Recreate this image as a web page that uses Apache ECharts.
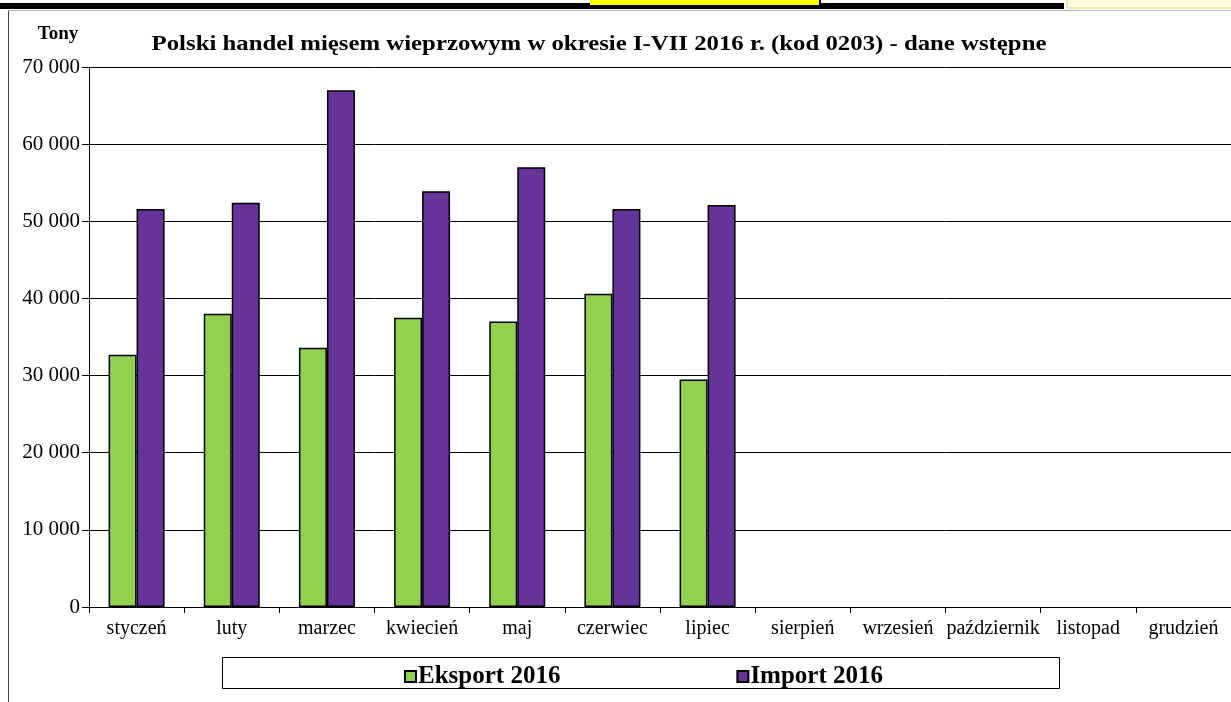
<!DOCTYPE html>
<html>
<head>
<meta charset="utf-8">
<script src="https://cdn.jsdelivr.net/npm/echarts@6/dist/echarts.min.js"></script>
<style>html,body{margin:0;padding:0;background:#fff;}#c{width:1231px;height:702px;}</style>
</head>
<body>
<div id="c"></div>
<script>
const months = ['styczeń','luty','marzec','kwiecień','maj','czerwiec','lipiec','sierpień','wrzesień','październik','listopad','grudzień'];
const eksport2016 = [32700, 38000, 33600, 37500, 37000, 40600, 29500, null, null, null, null, null];
const import2016 = [51600, 52400, 67000, 53900, 57000, 51600, 52100, null, null, null, null, null];
const yTicks = [0, 10000, 20000, 30000, 40000, 50000, 60000, 70000];
const titleText = 'Polski handel mięsem wieprzowym w okresie I-VII 2016 r. (kod 0203) - dane wstępne';

const serif = '"Liberation Serif", "DejaVu Serif", serif';
const chart = echarts.init(document.getElementById('c'));
chart.setOption({
  animation: false,
  backgroundColor: '#fff',
  graphic: [
    {type: 'rect', shape: {x: 0, y: 3, width: 1064, height: 6}, style: {fill: '#000'}},
    {type: 'rect', shape: {x: 590, y: 0, width: 230, height: 5}, style: {fill: '#ffff00'}},
    {type: 'rect', shape: {x: 819, y: 0, width: 2, height: 6}, style: {fill: '#000'}},
    {type: 'rect', shape: {x: 1067, y: -2, width: 170, height: 10}, style: {fill: '#fffbe0', stroke: '#e8d870', lineWidth: 1}},
    {type: 'line', shape: {x1: 8.5, y1: 10, x2: 8.5, y2: 702}, style: {stroke: '#444', lineWidth: 1}},
    {type: 'line', shape: {x1: 8, y1: 10.5, x2: 1231, y2: 10.5}, style: {stroke: '#bbb', lineWidth: 1}},
    {type: 'text', x: 58, y: 34, style: {text: 'Tony', fontFamily: serif, fontWeight: 'bold', fontSize: 19, fill: '#000', align: 'center', verticalAlign: 'middle'}},
    {type: 'text', x: 599, y: 45, scaleX: 1.18, originX: 0, originY: 0,
     style: {text: titleText, fontFamily: serif, fontWeight: 'bold', fontSize: 21, fill: '#000', align: 'center', verticalAlign: 'middle'}},
    {type: 'rect', shape: {x: 222.5, y: 657.5, width: 837, height: 31}, style: {fill: 'none', stroke: '#000', lineWidth: 1}}
  ],
  legend: {
    left: 399, top: 659,
    itemWidth: 11, itemHeight: 11, itemGap: 176,
    icon: 'rect',
    textStyle: {fontFamily: serif, fontWeight: 'bold', fontSize: 25, color: '#000', padding: [0, 0, 0, -3]},
    data: ['Eksport 2016', 'Import 2016']
  },
  grid: {left: 89, top: 67, height: 540, width: 1152},
  xAxis: {
    type: 'category', data: months,
    axisLine: {lineStyle: {color: '#000', width: 1}},
    axisTick: {show: true, length: 6, lineStyle: {color: '#000'}},
    axisLabel: {fontFamily: serif, fontSize: 20, color: '#000', margin: 12, interval: 0}
  },
  yAxis: {
    type: 'value', min: 0, max: 70000, interval: 10000,
    axisLine: {show: true, lineStyle: {color: '#000', width: 1}},
    axisTick: {show: true, length: 7, lineStyle: {color: '#000'}},
    splitLine: {lineStyle: {color: '#000', width: 1}},
    axisLabel: {
      fontFamily: serif, fontSize: 21, color: '#000', margin: 9,
      formatter: v => yTicks.includes(v) ? String(v).replace(/\B(?=(\d{3})+(?!\d))/g, ' ') : ''
    }
  },
  series: [
    {name: 'Eksport 2016', type: 'bar', data: eksport2016, barWidth: 28, barGap: '0%',
     itemStyle: {color: '#92d050', borderColor: '#000', borderWidth: 1.5}},
    {name: 'Import 2016', type: 'bar', data: import2016, barWidth: 28, barGap: '0%',
     itemStyle: {color: '#663399', borderColor: '#000', borderWidth: 1.5}}
  ]
});
</script>
</body>
</html>
